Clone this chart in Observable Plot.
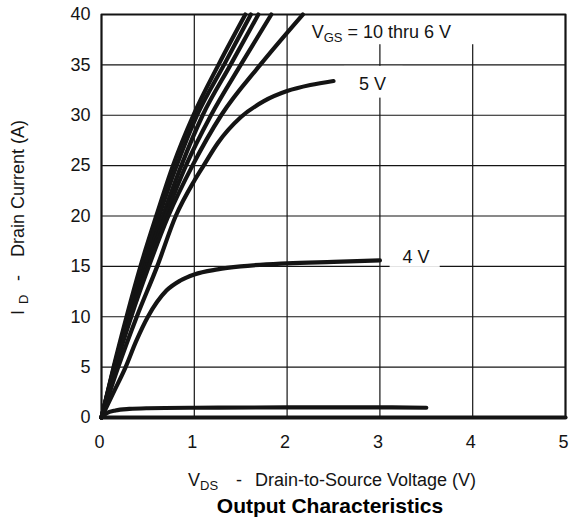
<!DOCTYPE html>
<html><head><meta charset="utf-8">
<script src="https://cdn.jsdelivr.net/npm/d3@7"></script>
<script src="https://cdn.jsdelivr.net/npm/@observablehq/plot@0.6"></script>
<style>html,body{margin:0;padding:0;background:#fff;overflow:hidden} #chart svg{display:block}</style>
</head><body><div id="chart"></div>
<script>
// Tick values
const xTicks = [0, 1, 2, 3, 4, 5];
const yTicks = [0, 5, 10, 15, 20, 25, 30, 35, 40];
const xGrid = [1, 2, 3, 4];
const yGrid = [5, 10, 15, 20, 25, 30, 35];
const xEdges = [0, 5];
const yEdges = [0, 40];

// Curves (VDS in V, ID in A)
const seriesNames = ["10 V", "9 V", "8 V", "7 V", "6 V", "5 V", "4 V", "3.5 V", "3 V"];
const vds10 = [0, 0.13, 0.27, 0.42, 0.59, 0.77, 0.99, 1.26, 1.55];
const id10  = [0, 5, 10, 15, 20, 25, 30, 35, 40];
const vds9  = [0, 0.135, 0.285, 0.445, 0.62, 0.81, 1.03, 1.32, 1.61];
const id9   = [0, 5, 10, 15, 20, 25, 30, 35, 40];
const vds8  = [0, 0.14, 0.30, 0.47, 0.66, 0.86, 1.09, 1.39, 1.69];
const id8   = [0, 5, 10, 15, 20, 25, 30, 35, 40];
const vds7  = [0, 0.145, 0.31, 0.49, 0.69, 0.91, 1.18, 1.50, 1.83];
const id7   = [0, 5, 10, 15, 20, 25, 30, 35, 40];
const vds6  = [0, 0.15, 0.32, 0.51, 0.72, 0.98, 1.29, 1.71, 2.17];
const id6   = [0, 5, 10, 15, 20, 25, 30, 35, 40];
const vds5  = [0, 0.18, 0.38, 0.6, 0.8, 1.0, 1.1, 1.25, 1.5, 1.75, 2.0, 2.25, 2.5];
const id5   = [0, 5, 10, 15, 20, 23.5, 25, 27.2, 29.8, 31.4, 32.4, 33.0, 33.4];
const vds4  = [0, 0.13, 0.26, 0.37, 0.5, 0.7, 0.85, 1.0, 1.25, 1.5, 2.0, 2.5, 3.0];
const id4   = [0, 2.5, 5, 7.5, 10, 12.6, 13.6, 14.2, 14.7, 15.0, 15.3, 15.45, 15.6];
const vds35 = [0, 0.05, 0.15, 0.3, 0.5, 1.0, 2.0, 3.0, 3.5];
const id35  = [0, 0.4, 0.7, 0.85, 0.92, 0.97, 1.0, 1.0, 0.97];
const vds3  = [0, 5];
const id3   = [0, 0];

// Curve labels (text, anchor in data units) and their white backgrounds
const labelTexts = ["VGS = 10 thru 6 V", "5 V", "4 V"];
const labelX = [2.27, 2.78, 3.25];
const labelY = [37.6, 32.5, 15.3];
const boxX1 = [2.3, 2.62, 3.11];
const boxX2 = [4.05, 3.25, 3.65];
const boxY1 = [37.0, 31.7, 14.9];
const boxY2 = [40, 34.85, 17.0];

const xLabel = "Drain-to-Source Voltage (V)";
const yLabel = "Drain Current (A)";
const title = "Output Characteristics";

// Build tables
const vdsAll = [vds10, vds9, vds8, vds7, vds6, vds5, vds4, vds35, vds3];
const idAll  = [id10, id9, id8, id7, id6, id5, id4, id35, id3];
const rows = [];
seriesNames.forEach((name, k) => {
  vdsAll[k].forEach((v, i) => rows.push({vgs: name, vds: v, id: idAll[k][i]}));
});
const boxes = boxX1.map((d, i) => ({x1: d, x2: boxX2[i], y1: boxY1[i], y2: boxY2[i]}));
// Border outline through the four corners of the plotting area
const border = [
  {vds: xEdges[0], id: yEdges[0]}, {vds: xEdges[0], id: yEdges[1]},
  {vds: xEdges[1], id: yEdges[1]}, {vds: xEdges[1], id: yEdges[0]},
  {vds: xEdges[0], id: yEdges[0]}
];

const FONT = "'Liberation Sans', Arial, Helvetica, sans-serif";
const INK = "#141414";

const plot = Plot.plot({
  width: 569, height: 525,
  marginLeft: 101, marginRight: 4, marginTop: 14, marginBottom: 108,
  x: {domain: xEdges},
  y: {domain: yEdges},
  style: {fontFamily: FONT, background: "white", color: INK},
  marks: [
    Plot.gridX(xGrid, {stroke: INK, strokeOpacity: 1, strokeWidth: 1.2}),
    Plot.gridY(yGrid, {stroke: INK, strokeOpacity: 1, strokeWidth: 1.2}),
    Plot.rect(boxes, {x1: "x1", x2: "x2", y1: "y1", y2: "y2", fill: "white"}),
    Plot.line(rows, {x: "vds", y: "id", z: "vgs", stroke: INK, strokeWidth: 4.2,
      curve: "monotone-x", strokeLinecap: "round", strokeLinejoin: "round"}),
    Plot.line(border, {x: "vds", y: "id", stroke: INK, strokeWidth: 2.2}),
    Plot.axisX(xTicks, {tickSize: 0, tickPadding: 18, fontSize: 18, label: null, dx: -2}),
    Plot.axisY(yTicks, {tickSize: 0, tickPadding: 11, fontSize: 18, label: null})
  ]
});

document.getElementById("chart").appendChild(plot);

const sx = plot.scale("x"), sy = plot.scale("y");
const svg = d3.select(plot);
const g = svg.append("g").attr("font-family", FONT).attr("fill", INK).attr("text-anchor", "start");

// Curve labels
function subLabel(x, y, main, sub, rest) {
  const t = g.append("text").attr("x", x).attr("y", y).attr("font-size", 18);
  t.append("tspan").text(main);
  t.append("tspan").attr("font-size", 13).attr("dy", 4).text(sub);
  t.append("tspan").attr("dy", -4).text(rest);
  return t;
}
subLabel(sx.apply(labelX[0]), sy.apply(labelY[0]), "V", "GS", labelTexts[0].slice(3));
for (let i = 1; i < labelTexts.length; i++) {
  g.append("text").attr("x", sx.apply(labelX[i])).attr("y", sy.apply(labelY[i]))
    .attr("font-size", 18).text(labelTexts[i]);
}

// X axis label
const xl = g.append("text").attr("y", 486).attr("font-size", 18);
xl.append("tspan").attr("x", 188).text("V");
xl.append("tspan").attr("font-size", 13).attr("dy", 4).text("DS");
xl.append("tspan").attr("x", 236).attr("dy", -4).text("-");
xl.append("tspan").attr("x", 255).text(xLabel);

// Y axis label (rotated)
const yl = g.append("text").attr("transform", "translate(24,0) rotate(-90)").attr("font-size", 18);
yl.append("tspan").attr("x", -315).text("I");
yl.append("tspan").attr("x", -304).attr("font-size", 13).attr("dy", 4).text("D");
yl.append("tspan").attr("x", -281).attr("dy", -4).text("-");
yl.append("tspan").attr("x", -257).text(yLabel);

// Title
g.append("text").attr("x", 330).attr("y", 513).attr("text-anchor", "middle")
  .attr("font-size", 21).attr("font-weight", "bold").attr("fill", "#000").text(title);
</script>
</body></html>
